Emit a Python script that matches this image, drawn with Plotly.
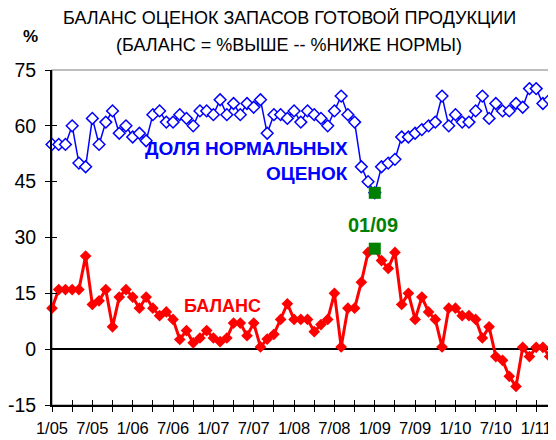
import plotly.graph_objects as go

months = list(range(75))  # month index from 1/05 to 3/11
tick_positions = list(range(0, 75, 3))
tick_labels = ["1/05", "7/05", "1/06", "7/06", "1/07", "7/07", "1/08",
               "7/08", "1/09", "7/09", "1/10", "7/10", "1/11"]

normal_share = [55, 55, 55, 60, 50, 49, 62, 55, 61, 64, 58, 60, 57, 58, 56, 63, 64, 61, 61, 63,
                62, 60, 64, 64, 63, 67, 63, 66, 63, 66, 65, 67, 58, 63, 63, 62, 64, 61, 64, 63,
                62, 60, 64, 68, 63, 61, 49, 45, 42, 49, 50, 51, 57, 57, 58, 59, 60, 61, 68, 60,
                63, 61, 61, 64, 68, 62, 66, 64, 64, 66, 65, 70, 70, 66, 67]

balance = [11, 16, 16, 16, 16, 25, 12, 13, 16, 6, 14, 16, 14, 11, 14, 11, 9, 10, 8, 2.6,
           5, 1.7, 3, 5, 3, 2, 3, 7, 7, 3.6, 7, 0.6, 2.7, 4, 8, 12.2, 8, 8, 8, 4.7,
           6.6, 8, 15, 0.6, 11, 11, 18, 26, 27, 23.8, 21.7, 26, 12, 15, 8, 14, 10, 8, 0.6, 11,
           11, 9, 9, 8, 3, 6, -2, -3, -7.3, -10, 0.5, -2, 0.5, 0.5, -2]

y_ticks = [-15, 0, 15, 30, 45, 60, 75]
y_tick_labels = ["-15", "0", "15", "30", "45", "60", "75"]

highlight_idx = 48
highlight_label = "01/09"

font_main = "Liberation Sans, Arial, sans-serif"

# the page body has an 8px default margin: lay out in page pixels, then shift
OFF = 8
W, H = 556 - OFF, 440 - OFF
PL, PR, PT, PB = 52, 555, 70, 405   # plot area in page pixels
ML, MR, MT, MB = PL - OFF, W - (PR - OFF), PT - OFF, H - (PB - OFF)

fig = go.Figure()

fig.add_trace(go.Scatter(
    x=months, y=normal_share, mode="lines+markers",
    line=dict(color="#0000FF", width=1.5),
    marker=dict(symbol="diamond", size=9, color="white",
                line=dict(color="#0000FF", width=1.5)),
    cliponaxis=False, showlegend=False))

fig.add_trace(go.Scatter(
    x=months, y=balance, mode="lines+markers",
    line=dict(color="#FF0000", width=3),
    marker=dict(symbol="diamond", size=9, color="#FF0000"),
    cliponaxis=False, showlegend=False))

fig.add_trace(go.Scatter(
    x=[months[highlight_idx], months[highlight_idx]],
    y=[normal_share[highlight_idx], balance[highlight_idx]],
    mode="markers",
    marker=dict(symbol="square", size=12, color="#008000",
                line=dict(color="#008000", width=0)),
    cliponaxis=False, showlegend=False))

# dummy trace for the overlay axes (inside half of the crossing tick marks)
fig.add_trace(go.Scatter(x=[None], y=[None], xaxis="x2", yaxis="y2",
                         showlegend=False, hoverinfo="skip"))

xrange = [0, 74.8]
yrange = [-15, 75]

fig.update_layout(
    width=W, height=H,
    margin=dict(l=ML, r=MR, t=MT, b=MB, autoexpand=False),
    paper_bgcolor="white", plot_bgcolor="white",
    font=dict(family=font_main, size=16, color="black"),
    xaxis=dict(range=xrange, tickvals=tick_positions,
               ticktext=[tick_labels[i // 2] if i % 2 == 0 else "" for i in range(len(tick_positions))],
               ticks="outside", ticklen=5, tickwidth=1.3, tickcolor="black",
               showline=True, linecolor="black", linewidth=1.5,
               showgrid=False, zeroline=False, automargin=False,
               ticklabelstandoff=2,
               tickfont=dict(size=16.5), anchor="y"),
    yaxis=dict(range=yrange, tickvals=y_ticks, ticktext=y_tick_labels,
               ticks="outside", ticklen=5, tickwidth=1.3, tickcolor="black",
               showline=True, linecolor="black", linewidth=2,
               showgrid=False, zeroline=True, zerolinecolor="black", zerolinewidth=1.5,
               automargin=False, ticklabelstandoff=5,
               tickfont=dict(size=19.5), anchor="x"),
    xaxis2=dict(range=xrange, overlaying="x", anchor="y2", tickvals=tick_positions,
                ticks="inside", ticklen=5, tickwidth=1.3, tickcolor="black",
                showticklabels=False, showgrid=False, zeroline=False, showline=False),
    yaxis2=dict(range=yrange, overlaying="y", anchor="x2", tickvals=y_ticks,
                ticks="inside", ticklen=5, tickwidth=1.3, tickcolor="black",
                showticklabels=False, showgrid=False, zeroline=False, showline=False),
    shapes=[dict(type="rect", xref="paper", yref="paper", x0=0, x1=1, y0=0, y1=1,
                 line=dict(color="#7f7f7f", width=1.2), layer="below")],
)

# annotation positions given in page pixels
annotations = [
    dict(text="БАЛАНС ОЦЕНОК ЗАПАСОВ ГОТОВОЙ ПРОДУКЦИИ", x=289, y=18,
         font=dict(size=18, color="black")),
    dict(text="(БАЛАНС = %ВЫШЕ -- %НИЖЕ НОРМЫ)", x=289, y=45,
         font=dict(size=18, color="black")),
    dict(text="<b>%</b>", x=30, y=36, font=dict(size=17, color="black")),
    dict(text="<b>ДОЛЯ НОРМАЛЬНЫХ</b>", x=350, y=148, xanchor="right",
         font=dict(size=19, color="#0000FF")),
    dict(text="<b>ОЦЕНОК</b>", x=350, y=173, xanchor="right",
         font=dict(size=19, color="#0000FF")),
    dict(text="<b>БАЛАНС</b>", x=222, y=306, font=dict(size=18, color="#FF0000")),
    dict(text="<b>" + highlight_label + "</b>", x=373, y=225,
         font=dict(size=20, color="#008000")),
]
for a in annotations:
    a.setdefault("xanchor", "center")
    a.update(xref="paper", yref="paper", showarrow=False, yanchor="middle")
    a["x"] = (a["x"] - PL) / (PR - PL)
    a["y"] = 1 - (a["y"] - PT) / (PB - PT)
fig.update_layout(annotations=annotations)

fig.write_html("out.html")
